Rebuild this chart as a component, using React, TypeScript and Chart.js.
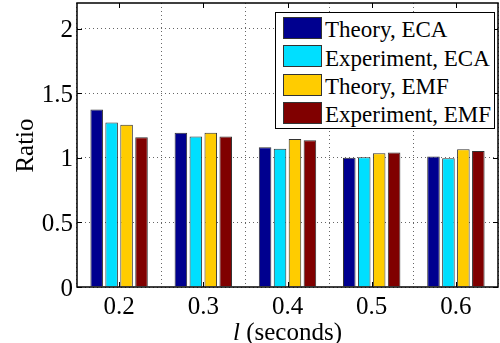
import React, { useEffect, useRef, useState } from "react";
import { Chart, registerables } from "chart.js";

Chart.register(...registerables);

const categories = ["0.2", "0.3", "0.4", "0.5", "0.6"];
const theoryECA = [1.375, 1.194, 1.083, 1.002, 1.01];
const experimentECA = [1.274, 1.165, 1.07, 1.005, 0.997];
const theoryEMF = [1.256, 1.194, 1.147, 1.036, 1.067];
const experimentEMF = [1.16, 1.165, 1.137, 1.041, 1.054];
const seriesLabels = ["Theory, ECA", "Experiment, ECA", "Theory, EMF", "Experiment, EMF"];
const seriesColors = ["#00008F", "#00DFFF", "#FFCC00", "#800000"];
const yTicks = [0, 0.5, 1, 1.5, 2];

const FONT = '"Liberation Serif", "Times New Roman", serif';

const framePlugin = {
  id: "framePlugin",
  afterDraw(chart: any) {
    const { ctx, chartArea } = chart;
    const { left, right, top, bottom } = chartArea;
    const xs = chart.scales.x;
    const ys = chart.scales.y;
    ctx.save();
    ctx.strokeStyle = "#000";
    ctx.lineWidth = 1;
    const tl = 5;
    ctx.beginPath();
    for (let i = 0; i < categories.length; i++) {
      const x = Math.round(xs.getPixelForValue(i)) + 0.5;
      ctx.moveTo(x, bottom);
      ctx.lineTo(x, bottom - tl);
      ctx.moveTo(x, top);
      ctx.lineTo(x, top + tl);
    }
    for (const v of yTicks) {
      const y = Math.round(ys.getPixelForValue(v)) + 0.5;
      ctx.moveTo(left, y);
      ctx.lineTo(left + tl, y);
      ctx.moveTo(right, y);
      ctx.lineTo(right - tl, y);
    }
    ctx.stroke();
    ctx.lineWidth = 1.5;
    ctx.strokeRect(left, top, right - left, bottom - top);
    ctx.restore();
  },
};

type Pos = { xs: number[]; ys: number[]; cx: number; cy: number };

export default function App() {
  const ref = useRef<HTMLCanvasElement>(null);
  const [pos, setPos] = useState<Pos | null>(null);
  useEffect(() => {
    if (!ref.current) return;
    const data = [theoryECA, experimentECA, theoryEMF, experimentEMF];
    const chart = new Chart(ref.current, {
      type: "bar",
      data: {
        labels: categories,
        datasets: data.map((d, i) => ({
          label: seriesLabels[i],
          data: d,
          backgroundColor: seriesColors[i],
          borderColor: "#333",
          borderWidth: 1,
          categoryPercentage: 0.71,
          barPercentage: 0.84,
        })),
      },
      options: {
        responsive: false,
        animation: false,
        layout: { padding: { top: 3, right: 2, left: 0, bottom: 0 } },
        plugins: { legend: { display: false }, tooltip: { enabled: false }, title: { display: false } },
        scales: {
          x: {
            grid: { display: true, color: "#666", drawTicks: false },
            border: { display: false, dash: [1, 3] } as any,
            ticks: { display: false },
            afterFit: (s: any) => { s.height = 56; },
          },
          y: {
            min: 0,
            max: 2.2,
            afterBuildTicks: (s: any) => { s.ticks = yTicks.map((v) => ({ value: v })); },
            grid: { color: "#666", drawTicks: false },
            border: { display: false, dash: [1, 3] } as any,
            ticks: { display: false },
            afterFit: (s: any) => { s.width = 77; },
          },
        },
      },
      plugins: [framePlugin],
    });
    const ca = chart.chartArea;
    setPos({
      xs: categories.map((_, i) => chart.scales.x.getPixelForValue(i)),
      ys: yTicks.map((v) => chart.scales.y.getPixelForValue(v)),
      cx: (ca.left + ca.right) / 2,
      cy: (ca.top + ca.bottom) / 2,
    });
    return () => chart.destroy();
  }, []);

  const text: React.CSSProperties = {
    position: "absolute",
    fontFamily: FONT,
    color: "#000",
    whiteSpace: "nowrap",
  };

  return (
    <div style={{ position: "fixed", left: 0, top: 0, width: 500, height: 343, overflow: "hidden", background: "#fff" }}>
      <canvas ref={ref} width={500} height={343} style={{ position: "absolute", left: 0, top: 0 }} />
      {pos && (
        <>
          {yTicks.map((v, i) => (
            <div key={"y" + v} style={{ ...text, left: 0, width: 73, top: pos.ys[i] - 12.5, fontSize: 25, lineHeight: "25px", textAlign: "right" }}>
              {String(v)}
            </div>
          ))}
          {categories.map((c, i) => (
            <div key={"x" + c} style={{ ...text, left: pos.xs[i] - 30, width: 60, top: 293, fontSize: 25, lineHeight: "25px", textAlign: "center" }}>
              {c}
            </div>
          ))}
          <div style={{ ...text, left: pos.cx - 100, width: 200, top: 319, fontSize: 25, lineHeight: "25px", textAlign: "center" }}>
            <i>l</i> (seconds)
          </div>
          <div style={{ ...text, left: 23.6 - 50, width: 100, top: pos.cy - 12.5, fontSize: 25, lineHeight: "25px", textAlign: "center", transform: "rotate(-90deg)" }}>
            Ratio
          </div>
          <div style={{ position: "absolute", left: 275, top: 12, width: 220, height: 117, boxSizing: "border-box", border: "1.5px solid #000", background: "#fff" }} />
          {seriesLabels.map((lab, i) => {
            const sy = 17 + i * 28.3;
            return (
              <React.Fragment key={lab}>
                <div style={{ position: "absolute", left: 283, top: sy, width: 39, height: 22, boxSizing: "border-box", border: "1px solid #333", background: seriesColors[i] }} />
                <div style={{ ...text, left: 325, top: sy + 1.2, fontSize: 23, lineHeight: "23px" }}>{lab}</div>
              </React.Fragment>
            );
          })}
        </>
      )}
    </div>
  );
}
